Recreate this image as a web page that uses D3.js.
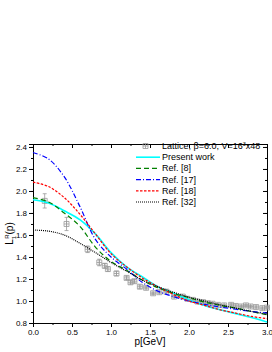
<!DOCTYPE html>
<html>
<head>
<meta charset="utf-8">
<script src="https://cdn.jsdelivr.net/npm/d3@7"></script>
<style>
  body { margin: 0; background: #fff; }
  svg text { font-family: "Liberation Sans", Arial, sans-serif; }
</style>
</head>
<body>
<div id="container"></div>
<script>
/* CONSTANTS AND GLOBALS */
const width = 272,
  height = 352,
  margin = { top: 144, bottom: 29, left: 33, right: 5 };

// momentum grid for the model curves
const pGrid = [0, 0.2, 0.4, 0.6, 0.8, 1.0, 1.2, 1.4, 1.6, 1.8, 2.0, 2.2, 2.4, 2.6, 2.8, 3.0];

const presentWork = [1.92, 1.89, 1.82, 1.74, 1.61, 1.44, 1.31, 1.22, 1.13, 1.07, 1.01, 0.96, 0.92, 0.885, 0.85, 0.81];
const ref8  = [1.94, 1.90, 1.80, 1.68, 1.49, 1.36, 1.28, 1.19, 1.12, 1.07, 1.03, 0.99, 0.96, 0.935, 0.905, 0.875];
const ref17 = [2.35, 2.29, 2.13, 1.86, 1.56, 1.40, 1.29, 1.17, 1.09, 1.04, 1.00, 0.97, 0.945, 0.925, 0.905, 0.89];
const ref18 = [2.08, 2.04, 1.94, 1.79, 1.61, 1.43, 1.31, 1.21, 1.13, 1.06, 1.00, 0.96, 0.92, 0.89, 0.86, 0.84];
const ref32 = [1.645, 1.635, 1.60, 1.525, 1.44, 1.35, 1.27, 1.19, 1.13, 1.08, 1.035, 1.00, 0.965, 0.935, 0.905, 0.88];

// lattice data
const latP   = [0.15, 0.43, 0.70, 0.85, 0.92, 0.96, 1.07, 1.20, 1.25, 1.30, 1.37, 1.45, 1.54, 1.62, 1.71, 1.81, 1.92, 1.98, 2.05, 2.11, 2.18, 2.24, 2.30, 2.37, 2.45, 2.54, 2.60, 2.67, 2.73, 2.79, 2.86, 2.94, 3.0];
const latVal = [1.91, 1.70, 1.47, 1.35, 1.32, 1.29, 1.25, 1.21, 1.17, 1.18, 1.13, 1.12, 1.07, 1.08, 1.085, 1.04, 1.04, 1.02, 1.01, 0.995, 0.99, 0.98, 0.975, 0.965, 0.96, 0.965, 0.955, 0.95, 0.96, 0.95, 0.945, 0.935, 0.94];
const latErr = [0.065, 0.06, 0.03, 0.03, 0.02, 0.02, 0.02, 0.015, 0.015, 0.015, 0.015, 0.01, 0.01, 0.01, 0.01, 0.01, 0.01, 0.01, 0.01, 0.01, 0.01, 0.01, 0.01, 0.01, 0.01, 0.01, 0.01, 0.01, 0.01, 0.01, 0.01, 0.01, 0.01];

const xTicks = [0, 0.5, 1.0, 1.5, 2.0, 2.5, 3.0];
const yTicks = [0.8, 1.0, 1.2, 1.4, 1.6, 1.8, 2.0, 2.2, 2.4];

const series = [
  { name: "Present work", values: presentWork, color: "#00ffff", dash: null, w: 1.6 },
  { name: "Ref. [8]", values: ref8, color: "#008000", dash: "5,3", w: 1.2 },
  { name: "Ref. [17]", values: ref17, color: "#0000ff", dash: "5,2,1,2", w: 1.2 },
  { name: "Ref. [18]", values: ref18, color: "#ff0000", dash: "2.5,1.5", w: 1.2 },
  { name: "Ref. [32]", values: ref32, color: "#000000", dash: "1,1", w: 1.2 }
];

// SCALES
const xScale = d3.scaleLinear()
  .domain([0, 3.0])
  .range([margin.left, width - margin.right]);

const yScale = d3.scaleLinear()
  .domain([0.8, 2.427])
  .range([height - margin.bottom, margin.top]);

const svg = d3.select("#container")
  .append("svg")
  .attr("width", width)
  .attr("height", height);

// AXES
const minorX = d3.range(0, 3.001, 0.25);
const minorY = d3.range(0.8, 2.43, 0.1);

const xAxis = d3.axisBottom(xScale).tickValues(xTicks).tickFormat(d3.format(".1f")).tickSize(4).tickPadding(2);
const yAxis = d3.axisLeft(yScale).tickValues(yTicks).tickFormat(d3.format(".1f")).tickSize(4).tickPadding(2);

svg.append("g")
  .attr("transform", `translate(0, ${height - margin.bottom})`)
  .call(d3.axisBottom(xScale).tickValues(minorX).tickFormat("").tickSize(2))
  .call(g => g.select(".domain").remove());
svg.append("g")
  .attr("class", "xAxis")
  .attr("transform", `translate(0, ${height - margin.bottom})`)
  .call(xAxis);

svg.append("g")
  .attr("transform", `translate(${margin.left}, 0)`)
  .call(d3.axisLeft(yScale).tickValues(minorY).tickFormat("").tickSize(2))
  .call(g => g.select(".domain").remove());
svg.append("g")
  .attr("class", "yAxis")
  .attr("transform", `translate(${margin.left}, 0)`)
  .call(yAxis);

// top and right: inward ticks, no labels
svg.append("g")
  .attr("transform", `translate(0, ${margin.top})`)
  .call(d3.axisBottom(xScale).tickValues(xTicks).tickFormat("").tickSize(4).tickSizeOuter(0));
svg.append("g")
  .attr("transform", `translate(0, ${margin.top})`)
  .call(d3.axisBottom(xScale).tickValues(minorX).tickFormat("").tickSize(2).tickSizeOuter(0))
  .call(g => g.select(".domain").remove());
svg.append("g")
  .attr("transform", `translate(${width - margin.right}, 0)`)
  .call(d3.axisLeft(yScale).tickValues(yTicks).tickFormat("").tickSize(4).tickSizeOuter(0));
svg.append("g")
  .attr("transform", `translate(${width - margin.right}, 0)`)
  .call(d3.axisLeft(yScale).tickValues(minorY).tickFormat("").tickSize(2).tickSizeOuter(0))
  .call(g => g.select(".domain").remove());

svg.selectAll(".tick text").attr("font-size", 8).attr("fill", "#000");
svg.selectAll(".domain, .tick line").attr("stroke", "#000");

// axis titles
svg.append("text")
  .attr("x", (margin.left + width - margin.right) / 2)
  .attr("y", 345)
  .attr("text-anchor", "middle")
  .attr("font-size", 10)
  .text("p[GeV]");

const yLab = svg.append("text")
  .attr("transform", `translate(13, ${(margin.top + height - margin.bottom) / 2}) rotate(-90)`)
  .attr("text-anchor", "middle")
  .attr("font-size", 10);
yLab.append("tspan").text("L");
yLab.append("tspan").attr("font-size", 6).attr("dy", 3).text("1");
yLab.append("tspan").attr("font-size", 6).attr("dy", -7).attr("dx", -3).text("R");
yLab.append("tspan").attr("dy", 4).text("(p)");

// LATTICE POINTS
const lat = latP.map((p, i) => ({ p: p, v: latVal[i], e: latErr[i] }));
const pts = svg.append("g").attr("stroke", "#999").attr("fill", "none").attr("stroke-width", 0.8);
pts.selectAll("path.err")
  .data(lat)
  .join("path")
  .attr("class", "err")
  .attr("d", d => {
    const x = xScale(d.p), y0 = yScale(d.v - d.e), y1 = yScale(d.v + d.e);
    return `M${x},${y0}V${y1}M${x - 2},${y0}H${x + 2}M${x - 2},${y1}H${x + 2}`;
  });
pts.selectAll("path.mk")
  .data(lat)
  .join("path")
  .attr("class", "mk")
  .attr("d", d => {
    const x = xScale(d.p), y = yScale(d.v), s = 2.5;
    return `M${x - s},${y - s}h${2 * s}v${2 * s}h${-2 * s}ZM${x - s},${y}h${2 * s}M${x},${y - s}v${2 * s}`;
  });

// CURVES
const lineFunction = d3.line()
  .x((d, i) => xScale(pGrid[i]))
  .y(d => yScale(d))
  .curve(d3.curveCatmullRom);

svg.selectAll("path.line")
  .data(series)
  .join("path")
  .attr("class", "line")
  .attr("fill", "none")
  .attr("stroke", d => d.color)
  .attr("stroke-width", d => d.w)
  .attr("stroke-dasharray", d => d.dash)
  .attr("d", d => lineFunction(d.values));

// LEGEND
const legend = svg.append("g");
const rowY = i => 146 + i * 11.2;

const l0 = legend.append("g").attr("stroke", "#999").attr("fill", "none").attr("stroke-width", 0.8);
l0.append("path").attr("d", `M143,${rowY(0) - 2.5}h5v5h-5ZM143,${rowY(0)}h5M145.5,${rowY(0) - 2.5}v5`);
const t0 = legend.append("text").attr("x", 162).attr("y", rowY(0) + 3).attr("font-size", 9);
t0.append("tspan").text("Lattice, \u03b2=6.0, V=16");
t0.append("tspan").attr("font-size", 5.5).attr("dy", -3).text("3");
t0.append("tspan").attr("dy", 3).text("x48");

series.forEach((s, i) => {
  const y = rowY(i + 1);
  legend.append("line")
    .attr("x1", 136).attr("x2", 160)
    .attr("y1", y).attr("y2", y)
    .attr("stroke", s.color)
    .attr("stroke-width", s.w)
    .attr("stroke-dasharray", s.dash);
  legend.append("text")
    .attr("x", 162).attr("y", y + 3)
    .attr("font-size", 9)
    .text(s.name);
});
</script>
</body>
</html>
